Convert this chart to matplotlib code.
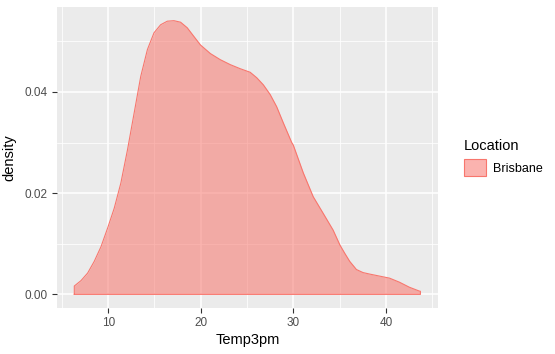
import numpy as np
import matplotlib.pyplot as plt
from matplotlib.patches import Patch
from matplotlib.colors import to_rgba

plt.rcParams['font.family'] = ['Liberation Sans', 'DejaVu Sans']

# density estimate of Temp3pm for Brisbane
temp = [6.34, 7.06, 7.78, 8.49, 9.22, 9.94, 10.65, 11.37, 12.09, 12.87,
        13.52, 14.24, 14.95, 15.67, 16.39, 17.10, 17.82, 18.54, 19.25, 19.97,
        21.04, 22.1, 23.2, 24.27, 25.34, 26.06, 26.77, 27.5, 28.2, 28.92,
        29.83, 30.0, 31.08, 32.15, 33.23, 34.3, 35.02, 35.56, 36.1, 36.82,
        37.53, 38.25, 39.32, 40.39, 41.46, 42.54, 43.6, 43.73]
density = [0.00164, 0.0027, 0.0042, 0.0065, 0.0094, 0.0131, 0.0170, 0.0220,
           0.0286, 0.0365, 0.0431, 0.0484, 0.0517, 0.0533, 0.0540, 0.0541,
           0.0538, 0.0527, 0.0510, 0.0493, 0.0476, 0.0464, 0.0454, 0.0446,
           0.0439, 0.0428, 0.0414, 0.0395, 0.0371, 0.0339, 0.0300, 0.0295,
           0.0240, 0.0193, 0.0160, 0.0127, 0.0098, 0.0081, 0.0065, 0.0049,
           0.0043, 0.0040, 0.0036, 0.0032, 0.0024, 0.0014, 0.00065, 0.0006]
location = 'Brisbane'
fill_col = '#F8766D'

x = np.array(temp)
y = np.array(density)

fig = plt.figure(figsize=(5.55, 3.54), dpi=100)
ax = fig.add_axes([57 / 555, 46 / 354, 380.7 / 555, 301 / 354])
ax.set_facecolor('#EBEBEB')

ax.fill_between(x, 0, y, color=fill_col, alpha=0.55, lw=0)
# full outline like geom_density
ox = np.concatenate([[x[0]], x, [x[-1], x[0]]])
oy = np.concatenate([[0], y, [0, 0]])
ax.plot(ox, oy, color=fill_col, lw=0.8)

rng = x[-1] - x[0]
ax.set_xlim(x[0] - 0.05 * rng, x[-1] + 0.05 * rng)
ymax = y.max()
ax.set_ylim(-0.05 * ymax, 1.05 * ymax)

ax.set_xticks([10, 20, 30, 40])
ax.set_xticks([5, 15, 25, 35, 45], minor=True)
ax.set_yticks([0, 0.02, 0.04])
ax.set_yticklabels(['0.00', '0.02', '0.04'])
ax.set_yticks([0.01, 0.03, 0.05], minor=True)
ax.grid(which='major', color='white', lw=1.1)
ax.grid(which='minor', color='white', lw=0.55)
ax.set_axisbelow(True)
for s in ax.spines.values():
    s.set_visible(False)
ax.tick_params(which='major', length=3.5, width=0.8, color='#333333',
               labelcolor='#4D4D4D', labelsize=8.5, pad=3)
ax.tick_params(which='minor', length=0)

ax.set_xlabel('Temp3pm', fontsize=10.5, labelpad=3)
ax.set_ylabel('density', fontsize=10.5, labelpad=6)

key = Patch(facecolor=to_rgba(fill_col, 0.55), edgecolor=fill_col, lw=0.8)
leg = ax.legend(handles=[key], labels=[location], title='Location',
                loc='center left', bbox_to_anchor=(455 / 555, 0.555),
                bbox_transform=fig.transFigure, frameon=False, fontsize=9,
                title_fontsize=10.5, handlelength=1.75, handleheight=1.75,
                handletextpad=0.6, alignment='left', borderpad=0.2)

fig.savefig('out.png', dpi=100)
